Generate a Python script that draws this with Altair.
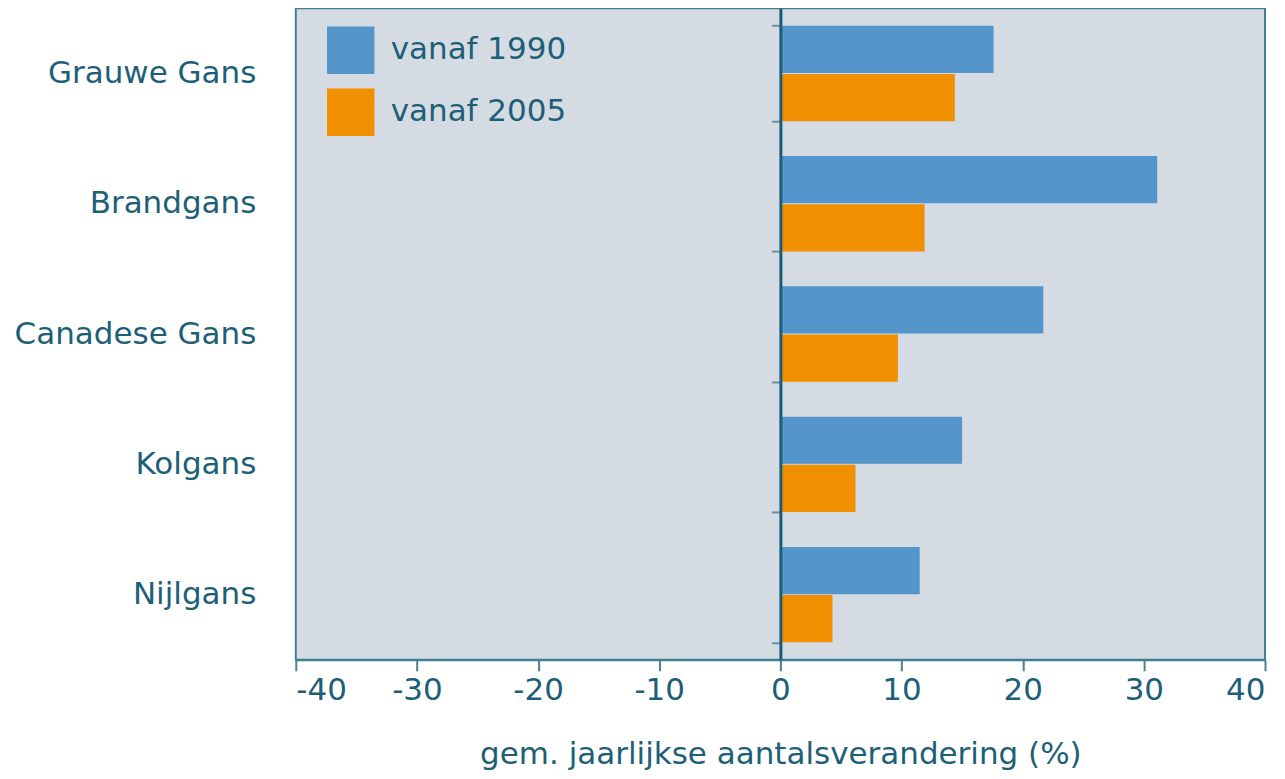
import altair as alt
import pandas as pd

species = ["Grauwe Gans", "Brandgans", "Canadese Gans", "Kolgans", "Nijlgans"]
series = ["vanaf 1990", "vanaf 2005"]
vanaf_1990 = [17.6, 31.1, 21.7, 15.0, 11.5]
vanaf_2005 = [14.4, 11.9, 9.7, 6.2, 4.3]
x_ticks = [-40, -30, -20, -10, 0, 10, 20, 30, 40]

rows = []
for i, s in enumerate(species):
    rows.append({"soort": s, "periode": series[0], "waarde": vanaf_1990[i]})
    rows.append({"soort": s, "periode": series[1], "waarde": vanaf_2005[i]})
df = pd.DataFrame(rows)

TEXT = "#1e5f78"
FONT = "DejaVu Sans"
FS = 31

chart = alt.Chart(df).mark_bar().encode(
    y=alt.Y("soort:N", sort=species, title=None,
            scale=alt.Scale(paddingInner=0.268, paddingOuter=0.134),
            axis=alt.Axis(orient="left", offset=-485, tickBand="extent",
                          domainColor="#1a5d77", domainWidth=3,
                          tickColor="#6b8f9c", tickWidth=2, tickSize=9,
                          labelPadding=516, labelFontSize=FS, labelFont=FONT,
                          labelLimit=400,
                          labelColor=TEXT, zindex=1)),
    yOffset=alt.YOffset("periode:N", sort=series,
                        scale=alt.Scale(paddingInner=0.02, paddingOuter=0)),
    x=alt.X("waarde:Q", title="gem. jaarlijkse aantalsverandering (%)",
            scale=alt.Scale(domain=[-40, 40], nice=False),
            axis=alt.Axis(values=x_ticks, grid=False, domainColor="#3f7f95",
                          domainWidth=2, tickColor="#4f7f90", tickWidth=2,
                          tickSize=11, labelFontSize=FS, labelFont=FONT,
                          labelExpr="datum.value < 0 ? '-' + abs(datum.value) : '' + datum.value",
                          labelColor=TEXT, labelPadding=5, titleFontSize=FS,
                          titleFont=FONT, titleColor=TEXT, titleFontWeight="normal",
                          titlePadding=34)),
    color=alt.Color("periode:N", sort=series,
                    scale=alt.Scale(domain=series, range=["#5495cb", "#f09000"]),
                    legend=alt.Legend(title=None, orient="none",
                                      padding=0, symbolType="square",
                                      symbolSize=2250, symbolStrokeWidth=0,
                                      symbolOpacity=1,
                                      labelFontSize=FS, labelFont=FONT,
                                      labelColor=TEXT, labelOffset=16,
                                      labelLimit=400,
                                      rowPadding=14, legendX=31, legendY=18)),
).properties(
    width=970,
    height=652,
    autosize=alt.AutoSizeParams(type="none"),
    padding={"left": 288, "top": 0, "right": 12, "bottom": 119},
).configure(
    background="white"
).configure_view(
    fill="#d4dbe3", stroke="#3f7f95", strokeWidth=2
)

chart.save("out.html", embed_options={"renderer": "svg", "actions": False})
